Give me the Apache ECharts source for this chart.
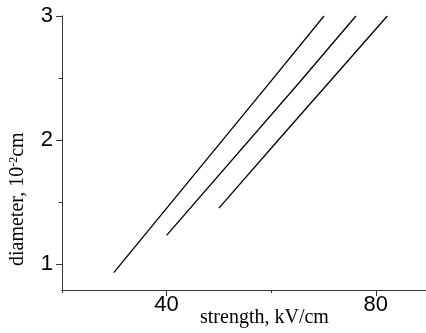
<!DOCTYPE html>
<html><head><meta charset="utf-8">
<script src="https://cdn.jsdelivr.net/npm/echarts@6/dist/echarts.min.js"></script>
<style>html,body{margin:0;padding:0;background:#fff}#c{width:426px;height:333px}</style>
</head><body><div id="c"></div>
<script>
// data: [strength kV/cm, diameter 10^-2 cm]
const curveA = [[29.9, 0.93], [59.1, 2.43], [70.1, 3.0]];
const curveB = [[40.0, 1.23], [65.5, 2.47], [76.2, 3.0]];
const curveC = [[50.0, 1.45], [62.0, 2.03], [72.0, 2.51], [82.2, 3.0]];
const xMajorTicks = [40, 80];
const xMinorTicks = [20, 60];
const yMajorTicks = [1, 2, 3];
const yMinorTicks = [1.5, 2.5];
const xRange = [20, 89.6];
const yRange = [0.79, 3];

const chart = echarts.init(document.getElementById('c'), null, {renderer: 'canvas'});
const axisCol = '#333';
const lab = {fontFamily: 'Liberation Sans, Arial, sans-serif', fontSize: 22, color: '#000'};
function xAx(ticks, len, labels) {
  return {type: 'value', min: xRange[0], max: xRange[1], position: 'bottom',
    splitLine: {show: false},
    axisLine: {show: true, lineStyle: {color: axisCol, width: 1}},
    axisTick: {show: true, length: len, inside: false, customValues: ticks, lineStyle: {color: axisCol}},
    axisLabel: labels ? Object.assign({show: true, margin: 4, customValues: ticks}, lab) : {show: false}};
}
function yAx(ticks, len, labels) {
  return {type: 'value', min: yRange[0], max: yRange[1], position: 'left',
    splitLine: {show: false},
    axisLine: {show: true, lineStyle: {color: axisCol, width: 1}},
    axisTick: {show: true, length: len, inside: false, customValues: ticks, lineStyle: {color: axisCol}},
    axisLabel: labels ? Object.assign({show: true, margin: 9, customValues: ticks}, lab) : {show: false}};
}
const lineSeries = (d) => ({type: 'line', data: d, symbol: 'none', smooth: false,
  lineStyle: {color: '#000', width: 1.3}, xAxisIndex: 0, yAxisIndex: 0, silent: true});
chart.setOption({
  animation: false,
  grid: {left: 62, right: 0, top: 16, bottom: 43},
  xAxis: [xAx(xMajorTicks, 6, true), xAx(xMinorTicks, 3, false)],
  yAxis: [yAx(yMajorTicks, 6, true), yAx(yMinorTicks, 3, false)],
  series: [lineSeries(curveA), lineSeries(curveB), lineSeries(curveC)],
  graphic: [
    {type: 'text', left: 200, top: 308,
     style: {text: 'strength, kV/cm', font: '20px "Liberation Serif", "Times New Roman", serif', fill: '#000'}},
    {type: 'text', x: 8, y: 266, rotation: Math.PI / 2,
     style: {text: '{n|diameter, 10}{s|-2}{n|cm}', fill: '#000',
       rich: {n: {fontFamily: 'Liberation Serif, Times New Roman, serif', fontSize: 20, verticalAlign: 'bottom'},
              s: {fontFamily: 'Liberation Serif, Times New Roman, serif', fontSize: 12, verticalAlign: 'top'}}}}
  ]
});
</script></body></html>
